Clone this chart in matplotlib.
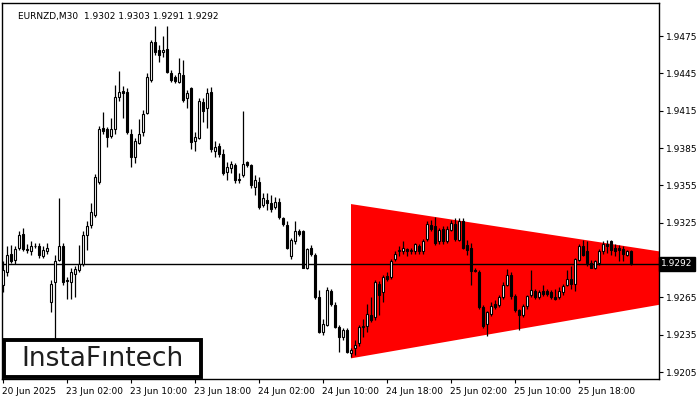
import numpy as np
import matplotlib
matplotlib.use("Agg")
import matplotlib.pyplot as plt
import matplotlib.transforms as mtransforms
from matplotlib.patches import Polygon

# EURNZD M30 candles (open, high, low, close)
opens = [1.9275, 1.9285, 1.9300, 1.9295, 1.9305, 1.9316, 1.9304, 1.9302, 1.9306, 1.9306,
         1.9298, 1.9302, 1.9261, 1.9277, 1.9295, 1.9306, 1.9279, 1.9277, 1.9284, 1.9287,
         1.9292, 1.9315, 1.9323, 1.9331, 1.9358, 1.9401, 1.9400, 1.9395, 1.9400, 1.9426,
         1.9431, 1.9430, 1.9396, 1.9378, 1.9389, 1.9398, 1.9413, 1.9440, 1.9470, 1.9464,
         1.9462, 1.9465, 1.9445, 1.9442, 1.9438, 1.9444, 1.9425, 1.9433, 1.9391, 1.9393,
         1.9422, 1.9417, 1.9430, 1.9383, 1.9387, 1.9380, 1.9366, 1.9369, 1.9371, 1.9359,
         1.9363, 1.9374, 1.9371, 1.9354, 1.9358, 1.9339, 1.9343, 1.9341, 1.9338, 1.9342,
         1.9329, 1.9323, 1.9298, 1.9310, 1.9318, 1.9318, 1.9289, 1.9305, 1.9299, 1.9265,
         1.9237, 1.9243, 1.9270, 1.9259, 1.9241, 1.9233, 1.9239, 1.9220, 1.9224, 1.9228,
         1.9241, 1.9242, 1.9251, 1.9249, 1.9276, 1.9269, 1.9282, 1.9281, 1.9296, 1.9302,
         1.9302, 1.9304, 1.9302, 1.9302, 1.9306, 1.9302, 1.9312, 1.9323, 1.9322, 1.9310,
         1.9320, 1.9310, 1.9319, 1.9324, 1.9311, 1.9326, 1.9307, 1.9305, 1.9287, 1.9285,
         1.9257, 1.9244, 1.9252, 1.9260, 1.9259, 1.9265, 1.9275, 1.9283, 1.9266, 1.9255,
         1.9251, 1.9258, 1.9267, 1.9270, 1.9265, 1.9270, 1.9270, 1.9269, 1.9265, 1.9265,
         1.9269, 1.9275, 1.9280, 1.9276, 1.9295, 1.9306, 1.9302, 1.9293, 1.9289, 1.9293,
         1.9302, 1.9308, 1.9310, 1.9305, 1.9305, 1.9304, 1.9299, 1.9302]
highs = [1.9294, 1.9306, 1.9307, 1.9306, 1.9318, 1.9321, 1.9308, 1.9310, 1.9309, 1.9309,
         1.9306, 1.9309, 1.9279, 1.9299, 1.9345, 1.9309, 1.9281, 1.9289, 1.9290, 1.9307,
         1.9318, 1.9326, 1.9341, 1.9364, 1.9403, 1.9414, 1.9402, 1.9409, 1.9436, 1.9447,
         1.9435, 1.9433, 1.9400, 1.9393, 1.9408, 1.9416, 1.9445, 1.9472, 1.9483, 1.9468,
         1.9475, 1.9483, 1.9448, 1.9444, 1.9457, 1.9456, 1.9432, 1.9434, 1.9398, 1.9425,
         1.9425, 1.9433, 1.9434, 1.9391, 1.9389, 1.9384, 1.9374, 1.9375, 1.9373, 1.9365,
         1.9415, 1.9375, 1.9372, 1.9363, 1.9362, 1.9349, 1.9349, 1.9347, 1.9346, 1.9345,
         1.9330, 1.9326, 1.9313, 1.9326, 1.9320, 1.9319, 1.9305, 1.9307, 1.9301, 1.9271,
         1.9248, 1.9273, 1.9272, 1.9261, 1.9243, 1.9240, 1.9240, 1.9224, 1.9231, 1.9243,
         1.9248, 1.9260, 1.9265, 1.9279, 1.9278, 1.9283, 1.9285, 1.9296, 1.9302, 1.9306,
         1.9310, 1.9305, 1.9305, 1.9309, 1.9308, 1.9312, 1.9326, 1.9327, 1.9330, 1.9321,
         1.9322, 1.9322, 1.9327, 1.9329, 1.9329, 1.9329, 1.9311, 1.9309, 1.9289, 1.9287,
         1.9259, 1.9254, 1.9261, 1.9263, 1.9267, 1.9277, 1.9288, 1.9285, 1.9268, 1.9256,
         1.9260, 1.9267, 1.9287, 1.9272, 1.9271, 1.9275, 1.9272, 1.9271, 1.9272, 1.9273,
         1.9276, 1.9287, 1.9290, 1.9297, 1.9308, 1.9311, 1.9310, 1.9295, 1.9295, 1.9304,
         1.9310, 1.9311, 1.9311, 1.9308, 1.9307, 1.9306, 1.9303, 1.9303]
lows = [1.9269, 1.9282, 1.9293, 1.9292, 1.9303, 1.9302, 1.9301, 1.9299, 1.9305, 1.9297,
        1.9297, 1.9300, 1.9253, 1.9231, 1.9294, 1.9275, 1.9264, 1.9264, 1.9265, 1.9285,
        1.9290, 1.9303, 1.9321, 1.9330, 1.9356, 1.9396, 1.9386, 1.9393, 1.9396, 1.9423,
        1.9409, 1.9396, 1.9370, 1.9373, 1.9388, 1.9395, 1.9412, 1.9438, 1.9460, 1.9454,
        1.9458, 1.9445, 1.9438, 1.9437, 1.9437, 1.9422, 1.9417, 1.9384, 1.9383, 1.9392,
        1.9406, 1.9401, 1.9382, 1.9378, 1.9378, 1.9363, 1.9359, 1.9365, 1.9357, 1.9357,
        1.9362, 1.9370, 1.9353, 1.9347, 1.9336, 1.9338, 1.9335, 1.9334, 1.9336, 1.9328,
        1.9322, 1.9304, 1.9296, 1.9308, 1.9314, 1.9289, 1.9288, 1.9298, 1.9264, 1.9236,
        1.9235, 1.9242, 1.9258, 1.9240, 1.9221, 1.9231, 1.9220, 1.9217, 1.9219, 1.9226,
        1.9233, 1.9237, 1.9245, 1.9247, 1.9251, 1.9261, 1.9278, 1.9280, 1.9294, 1.9298,
        1.9300, 1.9298, 1.9300, 1.9300, 1.9300, 1.9300, 1.9310, 1.9318, 1.9307, 1.9308,
        1.9308, 1.9309, 1.9318, 1.9310, 1.9310, 1.9304, 1.9299, 1.9275, 1.9285, 1.9256,
        1.9240, 1.9234, 1.9250, 1.9256, 1.9257, 1.9264, 1.9274, 1.9264, 1.9253, 1.9239,
        1.9249, 1.9256, 1.9265, 1.9264, 1.9264, 1.9266, 1.9266, 1.9264, 1.9263, 1.9264,
        1.9267, 1.9274, 1.9272, 1.9270, 1.9294, 1.9298, 1.9290, 1.9289, 1.9288, 1.9291,
        1.9300, 1.9301, 1.9299, 1.9298, 1.9294, 1.9294, 1.9298, 1.9291]
closes = [1.9287, 1.9299, 1.9294, 1.9304, 1.9315, 1.9304, 1.9303, 1.9306, 1.9306, 1.9299,
          1.9303, 1.9305, 1.9276, 1.9294, 1.9306, 1.9277, 1.9278, 1.9285, 1.9288, 1.9292,
          1.9315, 1.9322, 1.9334, 1.9362, 1.9400, 1.9399, 1.9394, 1.9400, 1.9426, 1.9430,
          1.9429, 1.9398, 1.9378, 1.9391, 1.9396, 1.9412, 1.9442, 1.9470, 1.9462, 1.9460,
          1.9464, 1.9446, 1.9440, 1.9439, 1.9445, 1.9424, 1.9429, 1.9390, 1.9394, 1.9423,
          1.9415, 1.9429, 1.9384, 1.9386, 1.9380, 1.9365, 1.9370, 1.9372, 1.9359, 1.9360,
          1.9372, 1.9371, 1.9355, 1.9359, 1.9338, 1.9345, 1.9341, 1.9336, 1.9342, 1.9330,
          1.9324, 1.9305, 1.9311, 1.9318, 1.9316, 1.9289, 1.9304, 1.9300, 1.9265, 1.9237,
          1.9244, 1.9271, 1.9260, 1.9241, 1.9233, 1.9239, 1.9221, 1.9223, 1.9227, 1.9241,
          1.9242, 1.9252, 1.9247, 1.9277, 1.9267, 1.9281, 1.9280, 1.9294, 1.9300, 1.9303,
          1.9305, 1.9302, 1.9303, 1.9308, 1.9302, 1.9310, 1.9324, 1.9320, 1.9309, 1.9319,
          1.9310, 1.9320, 1.9325, 1.9312, 1.9326, 1.9305, 1.9303, 1.9286, 1.9286, 1.9257,
          1.9242, 1.9253, 1.9258, 1.9257, 1.9265, 1.9275, 1.9283, 1.9266, 1.9255, 1.9251,
          1.9258, 1.9266, 1.9271, 1.9265, 1.9269, 1.9268, 1.9268, 1.9265, 1.9264, 1.9270,
          1.9274, 1.9280, 1.9276, 1.9296, 1.9306, 1.9299, 1.9293, 1.9289, 1.9294, 1.9302,
          1.9308, 1.9306, 1.9303, 1.9302, 1.9303, 1.9300, 1.9302, 1.9292]

# time axis labels (every 16 bars = 8 hours)
xtick_pos = [0, 16, 32, 48, 64, 80, 96, 112, 128, 144]
xtick_labels = ["20 Jun 2025", "23 Jun 02:00", "23 Jun 10:00", "23 Jun 18:00", "24 Jun 02:00",
                "24 Jun 10:00", "24 Jun 18:00", "25 Jun 02:00", "25 Jun 10:00", "25 Jun 18:00"]
ytick_vals = [1.9205, 1.9235, 1.9265, 1.9295, 1.9325, 1.9355, 1.9385, 1.9415, 1.9445, 1.9475]

# symmetrical triangle pattern (bar index, upper, lower)
tri_x = [87, 164]
tri_upper = [1.9340, 1.9302]
tri_lower = [1.9216, 1.9259]

last_price = 1.9292
title = "EURNZD,M30  1.9302 1.9303 1.9291 1.9292"

plt.rcParams['font.family'] = ['DejaVu Sans']

fig = plt.figure(figsize=(7, 4), dpi=100)
ax = fig.add_axes([1.5 / 700, 21 / 400, 657.5 / 700, 376 / 400])

o = np.array(opens)
h = np.array(highs)
l = np.array(lows)
c = np.array(closes)
idx = np.arange(len(o))

# triangle
poly = Polygon([(tri_x[0], tri_upper[0]), (tri_x[1], tri_upper[1]),
                (tri_x[1], tri_lower[1]), (tri_x[0], tri_lower[0])],
               closed=True, facecolor='#ff0000', edgecolor='none', zorder=1)
ax.add_patch(poly)

# last price line
ax.axhline(last_price, color='black', lw=1, zorder=2)

# candles
ax.vlines(idx, l, h, color='black', lw=0.9, zorder=3)
up = c >= o
bottoms = np.minimum(o, c)
heights = np.maximum(np.abs(c - o), 0.00003)
ax.bar(idx[up], heights[up], bottom=bottoms[up], width=0.55,
       facecolor='white', edgecolor='black', linewidth=0.8, zorder=4)
ax.bar(idx[~up], heights[~up], bottom=bottoms[~up], width=0.55,
       facecolor='black', edgecolor='black', linewidth=0.8, zorder=4)

ax.set_xlim(-0.375, 164.0)
ax.set_ylim(1.91994, 1.95016)

# axis styling
for s in ax.spines.values():
    s.set_color('black')
    s.set_linewidth(1)
ax.yaxis.tick_right()
ax.set_yticks(ytick_vals)
# the 1.9295 label sits under the last-price box
ax.set_yticklabels(["" if abs(v - 1.9295) < 1e-6 else f"{v:.4f}" for v in ytick_vals])
ax.set_xticks(xtick_pos)
ax.set_xticklabels(xtick_labels, ha='left')
ax.tick_params(axis='both', labelsize=6.5, length=3, width=0.8, colors='black', pad=2)
ax.tick_params(axis='x', pad=3)
offset = mtransforms.ScaledTranslation(-1 / 72, 0, fig.dpi_scale_trans)
for lab in ax.get_xticklabels():
    lab.set_transform(lab.get_transform() + offset)

# title
ax.text(0.025, 0.975, title, transform=ax.transAxes, fontsize=6.5, va='top', ha='left', color='black')

# price box on axis
trans = mtransforms.blended_transform_factory(ax.transAxes, ax.transData)
ax.text(1.003, last_price, "1.9292", transform=trans, fontsize=6.5, color='white',
        va='center', ha='left', clip_on=False, zorder=10,
        bbox=dict(boxstyle='square,pad=0.25', facecolor='black', edgecolor='black'))

# watermark box
fig.patches.append(plt.Rectangle((4 / 700, 23 / 400), 197 / 700, 37 / 400, transform=fig.transFigure,
                                 facecolor='white', edgecolor='black', linewidth=2.8, zorder=20))
fig.text(102 / 700, 41.5 / 400, "InstaF\u0131ntech", fontsize=19, color='#1e1e1e',
         ha='center', va='center', zorder=21)

fig.savefig("out.png", dpi=100)
